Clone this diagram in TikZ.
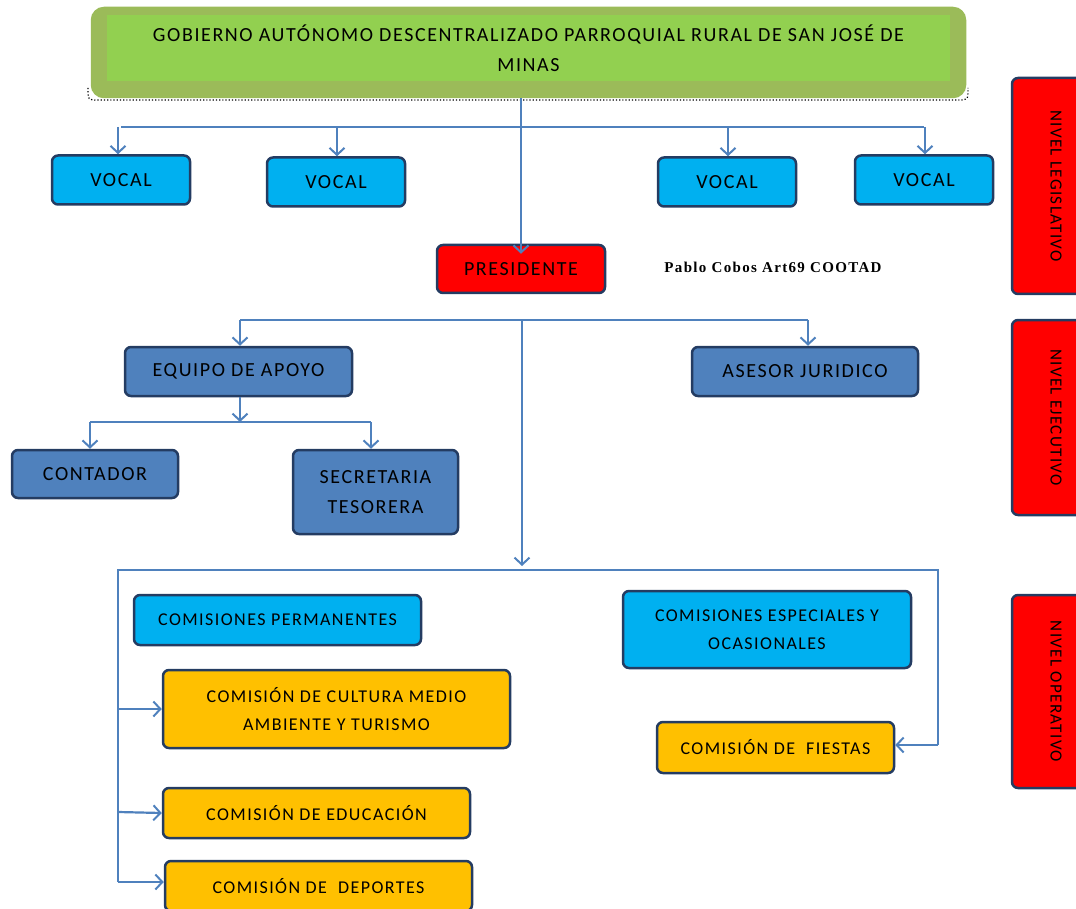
\documentclass[tikz,border=0pt]{standalone}
\usepackage{fontspec}
\setmainfont{Carlito}[LetterSpace=8]
\newfontfamily\notafont{Liberation Serif}[LetterSpace=9]
\usetikzlibrary{arrows.meta}

\definecolor{cian}{RGB}{0,176,240}
\definecolor{azul}{RGB}{79,129,189}
\definecolor{borde}{RGB}{36,60,98}
\definecolor{oro}{RGB}{255,192,0}
\definecolor{oliva}{RGB}{155,187,89}
\definecolor{verde}{RGB}{146,208,80}

\tikzset{caja/.style = {draw=borde, line width=2.5pt, rounded corners=6pt,
                        align=center, inner sep=0pt, text=black},
         vocal/.style = {caja, fill=cian, minimum width=138pt, minimum height=49pt,
                         font=\fontsize{20}{30}\selectfont},
         apoyo/.style = {caja, fill=azul, minimum height=49pt,
                          font=\fontsize{20}{30}\selectfont},
         comision/.style = {caja, minimum height=50pt,
                            font=\fontsize{18}{28}\selectfont},
         nivel/.style = {caja, fill=red, minimum height=88pt, rotate=-90,
                         font=\fontsize{17}{20}\selectfont},
         linea/.style = {draw=azul, line width=1.5pt},
         flecha/.style = {draw=azul, line width=2.2pt,
                          -{Straight Barb[length=7pt,width=15pt,line width=2pt]}}
        }

\begin{document}
\begin{tikzpicture}[x=1pt, y=-1pt]
  \clip (0,0) rectangle (1076,909);

  \node[caja, draw=oliva, fill=oliva, rounded corners=12pt, minimum width=873pt,
        minimum height=89pt] (gad) at (528.5,52.5) {};
  \node[fill=verde, minimum width=843pt, minimum height=66pt, inner sep=0pt,
        align=center, font=\fontsize{20}{30}\selectfont] (gadtxt) at (528.5,48)
        {GOBIERNO AUTÓNOMO DESCENTRALIZADO PARROQUIAL RURAL DE SAN JOSÉ DE\\MINAS};
  \draw[dotted, line width=1.2pt] (88,88) .. controls (88,100) .. (98,100) -- (958,100)
        .. controls (968,100) .. (968,88);

  \node[vocal] (v1) at (121,180) {VOCAL};
  \node[vocal] (v2) at (336,182) {VOCAL};
  \node[vocal] (v3) at (727,182) {VOCAL};
  \node[vocal] (v4) at (924,180) {VOCAL};

  \node[caja, fill=red, minimum width=168pt, minimum height=48pt,
        font=\fontsize{20}{30}\selectfont] (pres) at (521,269) {PRESIDENTE};
  \node[font=\notafont\bfseries\fontsize{15}{18}\selectfont] (nota) at (773,267)
        {Pablo Cobos Art69 COOTAD};

  \node[apoyo, minimum width=227pt] (equipo) at (238.5,371.5) {EQUIPO DE APOYO};
  \node[apoyo, minimum width=226pt] (asesor) at (805,371.5) {ASESOR JURIDICO};
  \node[apoyo, minimum width=166pt, minimum height=48pt] (contador) at (95,474) {CONTADOR};
  \node[apoyo, minimum width=165pt, minimum height=84pt] (secre) at (375.5,492)
        {SECRETARIA\\TESORERA};

  \node[comision, fill=cian, minimum width=287pt] (perm) at (277.5,620)
        {COMISIONES PERMANENTES};
  \node[comision, fill=cian, minimum width=288pt, minimum height=77pt] (espec) at (767,629.5)
        {COMISIONES ESPECIALES Y\\OCASIONALES};
  \node[comision, fill=oro, minimum width=347pt, minimum height=78pt] (cultura) at (336.5,709)
        {COMISIÓN DE CULTURA MEDIO\\AMBIENTE Y TURISMO};
  \node[comision, fill=oro, minimum width=237pt, minimum height=51pt] (fiestas) at (775.5,747.5)
        {COMISIÓN DE \ FIESTAS};
  \node[comision, fill=oro, minimum width=307pt] (educa) at (316.5,813)
        {COMISIÓN DE EDUCACIÓN};
  \node[comision, fill=oro, minimum width=307pt] (deportes) at (318.5,886)
        {COMISIÓN DE \ DEPORTES};

  \node[nivel, minimum width=216pt] (legis) at (1056,186) {NIVEL LEGISLATIVO};
  \node[nivel, minimum width=195pt] (ejecu) at (1056,417.5) {NIVEL EJECUTIVO};
  \node[nivel, minimum width=193pt] (opera) at (1056,691.5) {NIVEL OPERATIVO};

  \coordinate (bus1) at (520,127);
  \coordinate (bus2) at (522,320);
  \coordinate (bus3) at (240,422);
  \coordinate (izq) at (118,570);
  \coordinate (der) at (938,570);

  \draw[flecha] (pres.north |- gad.south) -- ([yshift=-10pt]pres.north);
  \draw[linea] (bus1 -| v1) -- (bus1 -| v4);
  \foreach \v/\x in {v1/118, v2/337, v3/728, v4/925}
    \draw[flecha] (\x,127) -- (\x,0 |- \v.north);

  \draw[linea] (240,320) -- (808,320);
  \draw[flecha] (240,320) -- (240,0 |- equipo.north);
  \draw[flecha] (808,320) -- (808,0 |- asesor.north);
  \draw[flecha] (bus2) -- (522,566);

  \draw[flecha] (equipo.south -| bus3) -- (bus3);
  \draw[linea] (90,422) -- (371,422);
  \draw[flecha] (90,422) -- (90,0 |- contador.north);
  \draw[flecha] (371,422) -- (371,0 |- secre.north);

  \draw[linea] (118,882) -- (izq) -- (der) -- (938,745);
  \draw[flecha] (cultura.west -| izq) -- (cultura.west);
  \draw[flecha] (118,812) -- (educa.west);
  \draw[flecha] (118,882) -- (deportes.west |- 0,882);
  \draw[flecha] (938,745) -- (fiestas.east |- 0,745);
\end{tikzpicture}
\end{document}
